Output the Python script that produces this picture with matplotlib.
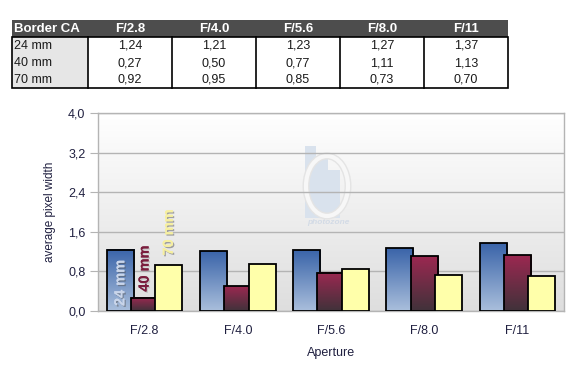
import numpy as np
import matplotlib
matplotlib.use("Agg")
import matplotlib.pyplot as plt
from matplotlib.patches import Rectangle, Ellipse
from matplotlib.colors import LinearSegmentedColormap
import matplotlib.patheffects as pe

plt.rcParams['font.family'] = ['Liberation Sans', 'DejaVu Sans']

# ---------------- data ----------------
apertures = ["F/2.8", "F/4.0", "F/5.6", "F/8.0", "F/11"]
series_names = ["24 mm", "40 mm", "70 mm"]
ca_24 = [1.24, 1.21, 1.23, 1.27, 1.37]
ca_40 = [0.27, 0.50, 0.77, 1.11, 1.13]
ca_70 = [0.92, 0.95, 0.85, 0.73, 0.70]
table_title = "Border CA"
y_ticks = [0.0, 0.8, 1.6, 2.4, 3.2, 4.0]

W, H = 580, 372
fig = plt.figure(figsize=(W / 100, H / 100), dpi=100)

# background overlay axes in pixel coordinates
bg = fig.add_axes([0, 0, 1, 1], zorder=0)
bg.set_xlim(0, W)
bg.set_ylim(H, 0)
bg.axis('off')

def fmt(v, nd=2):
    return f"{v:.{nd}f}".replace('.', ',')

# ---------------- table ----------------
tx0, tx1 = 12, 508
col_edges = [12, 88, 172, 256, 340, 424, 508]
hy0, hy1 = 20, 37
row_h = 17
bg.add_patch(Rectangle((tx0, hy0), tx1 - tx0, hy1 - hy0, facecolor='#4d4d4d', edgecolor='none'))
bg.text(14, (hy0 + hy1) / 2 + 0.5, table_title, color='white', fontsize=9.5, fontweight='bold',
        ha='left', va='center')
for i, a in enumerate(apertures):
    cx = (col_edges[i + 1] + col_edges[i + 2]) / 2
    bg.text(cx, (hy0 + hy1) / 2 + 0.5, a, color='white', fontsize=9.5, fontweight='bold',
            ha='center', va='center')
rows = [ca_24, ca_40, ca_70]
ty_end = hy1 + row_h * len(rows)
bg.add_patch(Rectangle((col_edges[0], hy1), col_edges[1] - col_edges[0], ty_end - hy1,
                       facecolor='#e6e6e6', edgecolor='none'))
for r, vals in enumerate(rows):
    cy = hy1 + row_h * r + row_h / 2 + 0.5
    bg.text(14, cy, series_names[r], color='#1a1a1a', fontsize=9, ha='left', va='center')
    for i, v in enumerate(vals):
        cx = (col_edges[i + 1] + col_edges[i + 2]) / 2
        bg.text(cx, cy, fmt(v), color='#1a1a1a', fontsize=9, ha='center', va='center')
# borders
bg.add_patch(Rectangle((tx0, hy1), tx1 - tx0, ty_end - hy1, facecolor='none', edgecolor='black', lw=1.2))
for xe in col_edges[1:-1]:
    bg.plot([xe, xe], [hy1, ty_end], color='black', lw=1.2)

# ---------------- chart area ----------------
px0, px1 = 98, 564
py_top, py_bot = 113, 311
grad = np.linspace(0, 1, 256).reshape(-1, 1)
bg_cmap = LinearSegmentedColormap.from_list('bgc', ['#ffffff', '#dedede'])
bg.imshow(grad, cmap=bg_cmap, extent=[px0, px1, py_bot, py_top], aspect='auto', zorder=0)

# watermark (photozone logo, faint)
wm = '#d9e2ed'
bg.add_patch(Rectangle((305, 146), 11, 72, facecolor=wm, edgecolor='none', zorder=1))
bg.add_patch(Rectangle((316, 156), 12, 62, facecolor=wm, edgecolor='none', zorder=1))
bg.add_patch(Rectangle((328, 170), 12, 48, facecolor=wm, edgecolor='none', zorder=1))
bg.add_patch(Ellipse((327, 186), 42, 60, facecolor='none', edgecolor='#e4e4e4', lw=5, zorder=1.1))
bg.add_patch(Ellipse((327, 186), 42, 60, facecolor='none', edgecolor='#f7f7f7', lw=3, zorder=1.2))
bg.text(328, 223, "photozone", color='#d3dbe6', fontsize=6, fontweight='bold',
        ha='center', va='center', style='italic', zorder=1)
bg.set_xlim(0, W)
bg.set_ylim(H, 0)

ax = fig.add_axes([px0 / W, 1 - py_bot / H, (px1 - px0) / W, (py_bot - py_top) / H], zorder=1)
ax.patch.set_alpha(0)

x = np.arange(len(apertures))
bw = 0.29
off = 0.26
bars24 = ax.bar(x - off, ca_24, bw, facecolor='none', edgecolor='black', lw=1.3, zorder=4)
bars40 = ax.bar(x, ca_40, bw, facecolor='none', edgecolor='black', lw=1.3, zorder=5)
bars70 = ax.bar(x + off, ca_70, bw, facecolor='#ffffaa', edgecolor='black', lw=1.3, zorder=6)

blue_cmap = LinearSegmentedColormap.from_list('blue', ['#3a64a9', '#aabfdc'])
red_cmap = LinearSegmentedColormap.from_list('red', ['#9c2851', '#40323a'])
for bars, cmap, z in [(bars24, blue_cmap, 3.5), (bars40, red_cmap, 4.5)]:
    for p in bars:
        x0, y0 = p.get_x(), p.get_y()
        ax.imshow(grad, cmap=cmap, extent=[x0, x0 + p.get_width(), y0, y0 + p.get_height()],
                  aspect='auto', zorder=z, origin='upper')

ax.set_xlim(-0.5, len(apertures) - 0.5)
ax.set_ylim(0, 4.0)
ax.set_yticks(y_ticks)
ax.set_yticklabels([fmt(v, 1) for v in y_ticks])
ax.set_xticks(x)
ax.set_xticklabels(apertures)
ax.set_aspect('auto')
ax.grid(axis='y', color='#b4b4b4', lw=1, zorder=1)
ax.set_axisbelow(True)
for s in ax.spines.values():
    s.set_color('#b4b4b4')
    s.set_linewidth(1)
ax.tick_params(axis='y', length=6, color='#b4b4b4', labelsize=9, labelcolor='#202040', pad=3)
ax.tick_params(axis='x', length=0, labelsize=9, labelcolor='#202040', pad=10)
ax.set_ylabel("average pixel width", fontsize=8.5, color='#202040', labelpad=9)
ax.set_xlabel("Aperture", fontsize=9, color='#202040', labelpad=7)

# series labels in the first group
shadow = [pe.withSimplePatchShadow(offset=(1, -1), shadow_rgbFace='#555555', alpha=0.5), pe.Normal()]
ax.text(x[0] - off, 0.1, series_names[0], rotation=90, ha='center', va='bottom', fontsize=10.5,
        fontweight='bold', color='#c9d5ea', zorder=8, path_effects=shadow)
ax.text(x[0], ca_40[0] + 0.12, series_names[1], rotation=90, ha='center', va='bottom', fontsize=10.5,
        fontweight='bold', color='#7a1d3d', zorder=8,
        path_effects=[pe.withSimplePatchShadow(offset=(1, -1), shadow_rgbFace='#999999', alpha=0.4), pe.Normal()])
ax.text(x[0] + off, ca_70[0] + 0.2, series_names[2], rotation=90, ha='center', va='bottom', fontsize=10.5,
        fontweight='bold', color='#f7f0a0', zorder=8, path_effects=shadow)

fig.savefig("out.png", dpi=100)
